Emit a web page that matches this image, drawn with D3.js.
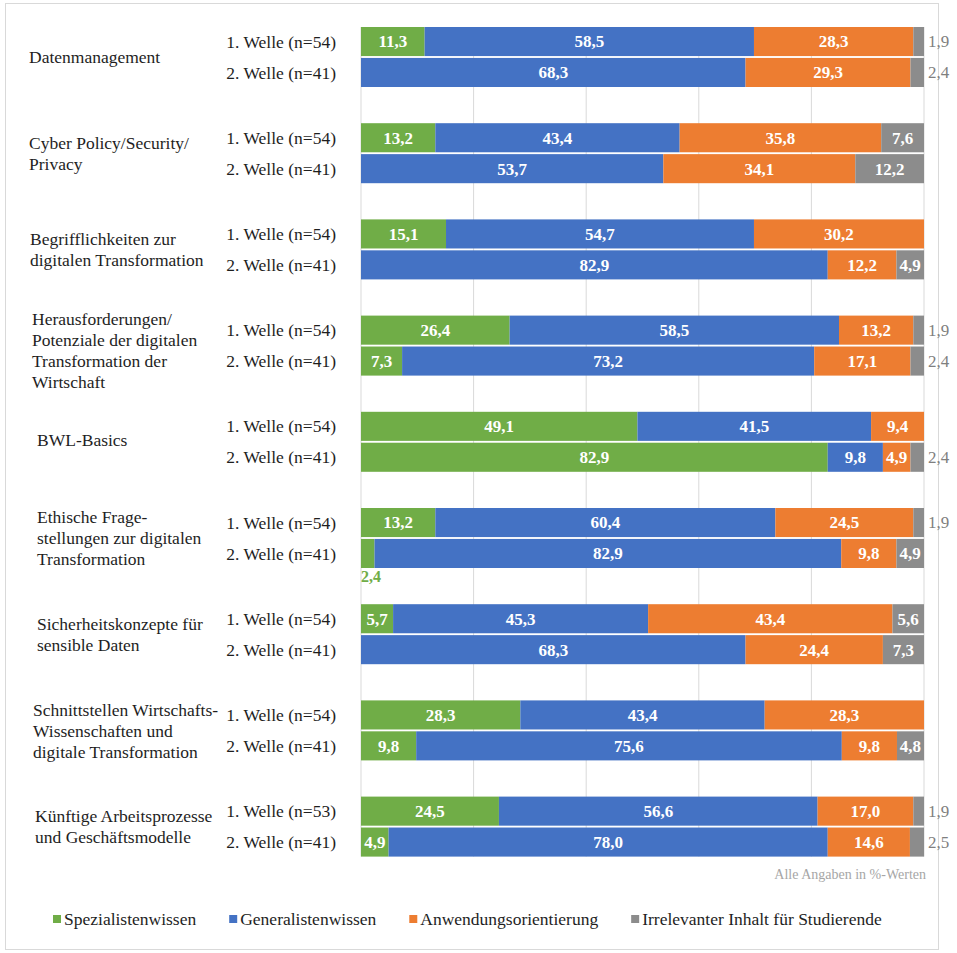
<!DOCTYPE html>
<html><head><meta charset="utf-8">
<script src="https://cdn.jsdelivr.net/npm/d3@7"></script>
<style>body{margin:0;background:#fff;} svg{display:block;}</style>
</head><body>
<svg id="chart" width="957" height="953"></svg>
<script>
// ---------- data ----------
const categories = [
  "Datenmanagement",
  "Cyber Policy/Security/\nPrivacy",
  "Begrifflichkeiten zur\ndigitalen Transformation",
  "Herausforderungen/\nPotenziale der digitalen\nTransformation der\nWirtschaft",
  "BWL-Basics",
  "Ethische Frage-\nstellungen zur digitalen\nTransformation",
  "Sicherheitskonzepte für\nsensible Daten",
  "Schnittstellen Wirtschafts-\nWissenschaften und\ndigitale Transformation",
  "Künftige Arbeitsprozesse\nund Geschäftsmodelle"
];
const waveLabels = [
  ["1. Welle (n=54)","2. Welle (n=41)"],
  ["1. Welle (n=54)","2. Welle (n=41)"],
  ["1. Welle (n=54)","2. Welle (n=41)"],
  ["1. Welle (n=54)","2. Welle (n=41)"],
  ["1. Welle (n=54)","2. Welle (n=41)"],
  ["1. Welle (n=54)","2. Welle (n=41)"],
  ["1. Welle (n=54)","2. Welle (n=41)"],
  ["1. Welle (n=54)","2. Welle (n=41)"],
  ["1. Welle (n=53)","2. Welle (n=41)"]
];
const seriesNames = ["Spezialistenwissen","Generalistenwissen","Anwendungsorientierung","Irrelevanter Inhalt für Studierende"];
// [1. Welle, 2. Welle] per category
const spezialisten  = [[11.3,0],[13.2,0],[15.1,0],[26.4,7.3],[49.1,82.9],[13.2,2.4],[5.7,0],[28.3,9.8],[24.5,4.9]];
const generalisten  = [[58.5,68.3],[43.4,53.7],[54.7,82.9],[58.5,73.2],[41.5,9.8],[60.4,82.9],[45.3,68.3],[43.4,75.6],[56.6,78.0]];
const anwendung     = [[28.3,29.3],[35.8,34.1],[30.2,12.2],[13.2,17.1],[9.4,4.9],[24.5,9.8],[43.4,24.4],[28.3,9.8],[17.0,14.6]];
const irrelevant    = [[1.9,2.4],[7.6,12.2],[0,4.9],[1.9,2.4],[0,2.4],[1.9,4.9],[5.6,7.3],[0,4.8],[1.9,2.5]];
const xTicks = [0,20,40,60,80,100];
const note = "Alle Angaben in %-Werten";

// ---------- layout ----------
const colors = ["#70AD47","#4472C4","#ED7D31","#8c8c8c"];
const FONT = "Liberation Serif";
const svg = d3.select("#chart");
const seriesData = [spezialisten, generalisten, anwendung, irrelevant];

function txt(sel){ return sel.append("text").style("font-family", FONT); }

const rows = [];
categories.forEach((c,i)=>{
  [0,1].forEach(w=>{
    const r = {key: i+"_"+w, cat: i, wave: w};
    seriesNames.forEach((s,k)=>{ r[s] = seriesData[k][i][w]; });
    rows.push(r);
  });
});

const x = d3.scaleLinear().domain([0,100]).range([361,924]);
const yGroup = d3.scaleBand().domain(d3.range(categories.length)).range([27, 27+9*96.2]);
const yWave = d3.scaleBand().domain([0,1]).range([0,60]).paddingInner(0.06);

// frame
svg.append("rect").attr("x",5.5).attr("y",3.5).attr("width",933).attr("height",946)
  .attr("fill","#fff").attr("stroke","#d9d9d9").attr("stroke-width",1);

// gridlines
svg.append("g").selectAll("line").data(xTicks).join("line")
  .attr("x1",d=>x(d)).attr("x2",d=>x(d))
  .attr("y1",27).attr("y2",yGroup(8)+60)
  .attr("stroke","#d9d9d9").attr("stroke-width",1);

const stack = d3.stack().keys(seriesNames);
const stacked = stack(rows);
const fmt = v => d3.format(".1f")(v).replace(".",",");

const barY = r => yGroup(r.cat) + yWave(r.wave);
const bh = yWave.bandwidth();

const layers = svg.append("g").selectAll("g").data(stacked).join("g")
  .attr("fill",(d,i)=>colors[i]);
layers.selectAll("rect").data(d=>d.filter(s=>s[1]-s[0]>0)).join("rect")
  .attr("x",d=>x(d[0])).attr("width",d=>x(d[1])-x(d[0]))
  .attr("y",d=>barY(d.data)).attr("height",bh);

// value labels
const labG = svg.append("g");
stacked.forEach((layer,k)=>{
  layer.forEach(s=>{
    const v = s[1]-s[0];
    if (v<=0) return;
    const yc = barY(s.data)+bh/2;
    if (v < 3 && k===3) {
      txt(labG).attr("x",x(100)+4).attr("y",yc).attr("dy","0.35em")
        .style("font-size","17px").attr("fill","#7f7f7f").text(fmt(v));
    } else if (v < 3 && k===0) {
      txt(labG).attr("x",x(s[0])).attr("y",barY(s.data)+bh+8).attr("dy","0.35em")
        .style("font-size","16px").style("font-weight","bold").attr("fill",colors[0]).text(fmt(v));
    } else {
      txt(labG).attr("x",(x(s[0])+x(s[1]))/2).attr("y",yc).attr("dy","0.35em")
        .attr("text-anchor","middle").style("font-size","17px").style("font-weight","bold")
        .attr("fill","#fff").text(fmt(v));
    }
  });
});

// wave labels
const wG = svg.append("g");
rows.forEach(r=>{
  txt(wG).attr("x",336).attr("y",barY(r)+bh/2).attr("dy","0.35em")
    .style("font-size","17.5px").attr("fill","#1e1e1e")
    .attr("text-anchor","end").text(waveLabels[r.cat][r.wave]);
});

// category labels
const indent = [29,29,30,32,37,37,37,33,35];
const dyAdj = [0,0,0,5,-2,0,0,0,0];
const lineH = 21;
const cG = svg.append("g");
categories.forEach((c,i)=>{
  const lines = c.split("\n");
  const yc = yGroup(i)+30+dyAdj[i];
  const t = txt(cG).attr("x",indent[i]).style("font-size","17.5px").attr("fill","#1e1e1e");
  lines.forEach((ln,j)=>{
    t.append("tspan").attr("x",indent[i])
      .attr("y", yc + (j-(lines.length-1)/2)*lineH).attr("dy","0.35em").text(ln);
  });
});

// note
txt(svg).attr("x",926).attr("y",874).attr("dy","0.35em").attr("text-anchor","end")
  .style("font-size","14px").attr("fill","#a6a6a6").text(note);

// legend
const leg = svg.append("g");
let lx = 53;
const ly = 919;
seriesNames.forEach((s,i)=>{
  leg.append("rect").attr("x",lx).attr("y",ly-4).attr("width",8).attr("height",8).attr("fill",colors[i]);
  const t = txt(leg).attr("x",lx+11).attr("y",ly).attr("dy","0.35em")
    .style("font-size","17.5px").attr("fill","#1e1e1e").text(s);
  lx = lx + 11 + t.node().getComputedTextLength() + 33;
});
</script>
</body></html>
